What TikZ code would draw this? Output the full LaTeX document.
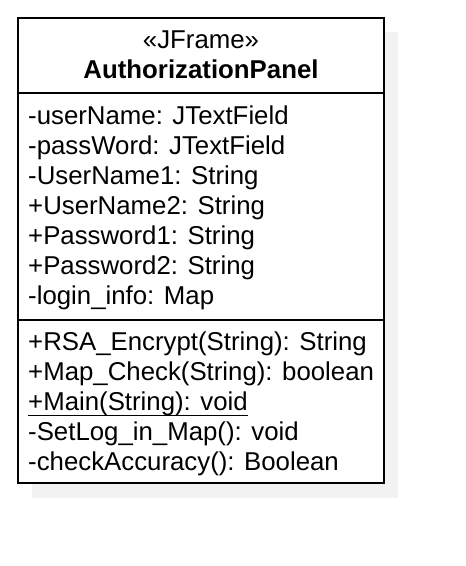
\documentclass[tikz,border=0pt]{standalone}
\usepackage{fontspec}
\setmainfont{Liberation Sans}
\usetikzlibrary{positioning}

\definecolor{shadowgray}{HTML}{F2F2F2}

\tikzset{
  classline/.style={line width=2pt},
  member/.style={anchor=base west, inner sep=0pt, font=\fontsize{25.8}{30}\selectfont},
  title/.style={anchor=base, inner sep=0pt, font=\fontsize{25.8}{30}\selectfont}
}

\begin{document}
\begin{tikzpicture}[x=1pt, y=-1pt]
  \useasboundingbox (0,0) rectangle (466,566);

  % Ombre
  \fill[shadowgray] (32,32) rectangle (398,498);

  % Classe
  \draw[classline, fill=white] (18,18) rectangle (384,483);
  \draw[classline] (18,93) -- (384,93);
  \draw[classline] (18,320) -- (384,320);

  % En-tete
  \node[title] (stereo) at (201,48) {«JFrame»};
  \node[title, font=\fontsize{25.8}{30}\selectfont\bfseries] (name) at (201,78) {AuthorizationPanel};

  % Attributs
  \foreach \txt [count=\i] in {-userName: JTextField, -passWord: JTextField,
      -UserName1: String, +UserName2: String, +Password1: String,
      +Password2: String, -login\_info: Map} {
    \node[member] (attr\i) at (28,{124+30*(\i-1)}) {\txt};
  }

  % Operations
  \foreach \txt [count=\i] in {+RSA\_Encrypt(String): String, +Map\_Check(String): boolean,
      +Main(String): void, -SetLog\_in\_Map(): void, -checkAccuracy(): Boolean} {
    \node[member] (op\i) at (28,{350+30*(\i-1)}) {\txt};
  }
  \draw[line width=1.5pt] (op3.south west) -- (op3.south east);
\end{tikzpicture}
\end{document}
